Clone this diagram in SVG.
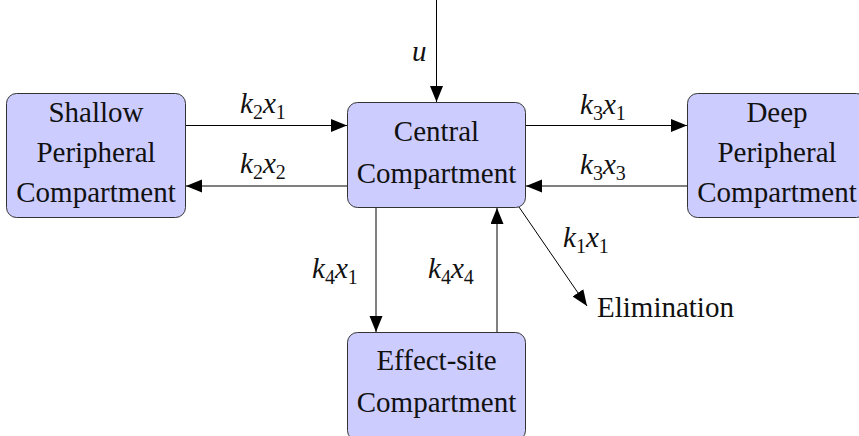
<svg xmlns="http://www.w3.org/2000/svg" width="859" height="436" viewBox="0 0 859 436">
<style>
.box{fill:#ccccff;stroke:#333;stroke-width:1}
.t{font-family:'Liberation Serif','Times New Roman',serif;font-size:29px;fill:#111;text-anchor:middle}
.m{font-family:'Liberation Serif','Times New Roman',serif;font-size:29px;font-style:italic;fill:#111}
.s{font-style:normal;font-size:20px}
.e{stroke:#000;stroke-width:1;fill:none;marker-end:url(#ah)}
</style>
<defs>
<marker id="ah" markerUnits="userSpaceOnUse" markerWidth="16" markerHeight="14" refX="16" refY="6.5" orient="auto">
<path d="M0,0 L16,6.5 L0,13 Z" fill="#000"/>
</marker>
</defs>
<rect width="859" height="436" fill="#fff"/>
<g id="edges">
<line class="e" x1="436.5" y1="0" x2="436.5" y2="102"/>
<line class="e" x1="186" y1="125.5" x2="347" y2="125.5"/>
<line class="e" x1="347" y1="186" x2="186" y2="186"/>
<line class="e" x1="526" y1="125.5" x2="687" y2="125.5"/>
<line class="e" x1="687" y1="186" x2="526" y2="186"/>
<line class="e" x1="376" y1="208" x2="376" y2="332"/>
<line class="e" x1="497" y1="332" x2="497" y2="208"/>
<line class="e" x1="519" y1="207" x2="587" y2="306"/>
</g>
<g id="labels">
<text class="m" x="412" y="61">u</text>
<text class="m" x="240" y="113">k<tspan class="s" dy="6">2</tspan><tspan dy="-6">x</tspan><tspan class="s" dy="6">1</tspan></text>
<text class="m" x="240" y="173">k<tspan class="s" dy="6">2</tspan><tspan dy="-6">x</tspan><tspan class="s" dy="6">2</tspan></text>
<text class="m" x="580" y="114">k<tspan class="s" dy="6">3</tspan><tspan dy="-6">x</tspan><tspan class="s" dy="6">1</tspan></text>
<text class="m" x="580" y="174">k<tspan class="s" dy="6">3</tspan><tspan dy="-6">x</tspan><tspan class="s" dy="6">3</tspan></text>
<text class="m" x="312" y="278">k<tspan class="s" dy="6">4</tspan><tspan dy="-6">x</tspan><tspan class="s" dy="6">1</tspan></text>
<text class="m" x="428" y="278">k<tspan class="s" dy="6">4</tspan><tspan dy="-6">x</tspan><tspan class="s" dy="6">4</tspan></text>
<text class="m" x="563" y="247">k<tspan class="s" dy="6">1</tspan><tspan dy="-6">x</tspan><tspan class="s" dy="6">1</tspan></text>
</g>
<g id="shallow">
<rect class="box" x="6.5" y="93.5" width="179" height="124" rx="10"/>
<text class="t" x="96" y="122">Shallow</text>
<text class="t" x="96" y="162">Peripheral</text>
<text class="t" x="96" y="202">Compartment</text>
</g>
<g id="central">
<rect class="box" x="347.5" y="102.5" width="178" height="105" rx="10"/>
<text class="t" x="436.5" y="141">Central</text>
<text class="t" x="436.5" y="183">Compartment</text>
</g>
<g id="deep">
<rect class="box" x="687.5" y="93.5" width="179" height="124" rx="10"/>
<text class="t" x="777" y="122">Deep</text>
<text class="t" x="777" y="162">Peripheral</text>
<text class="t" x="777" y="202">Compartment</text>
</g>
<g id="effect">
<rect class="box" x="347.5" y="332.5" width="178" height="108" rx="10"/>
<text class="t" x="436.5" y="370">Effect-site</text>
<text class="t" x="436.5" y="412">Compartment</text>
</g>
<g id="elimination">
<text class="t" x="597" y="317" style="text-anchor:start">Elimination</text>
</g>
</svg>
